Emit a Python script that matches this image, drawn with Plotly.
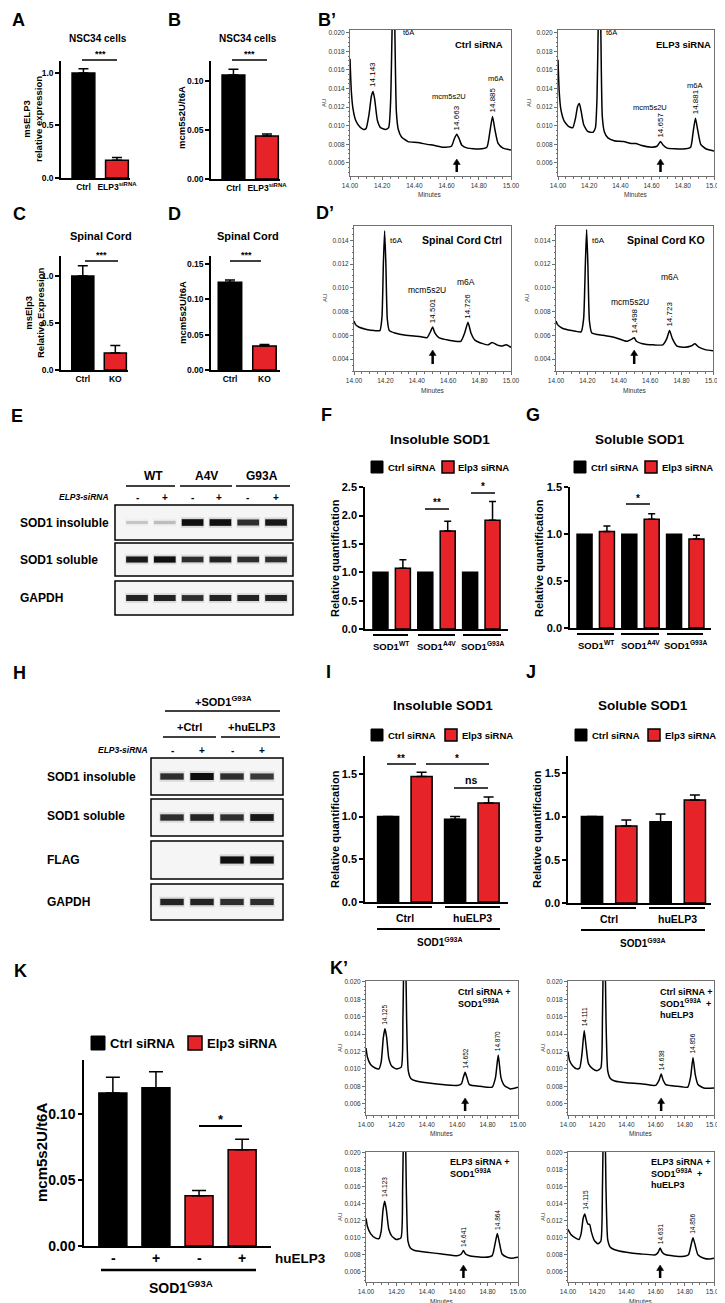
import plotly.graph_objects as go

W, H = 725, 1303
FONT = "Liberation Sans, Arial, Helvetica, sans-serif"
RED = "#e52329"
AXC = "#707070"

# ---------------- data ----------------
a_labels = ["Ctrl", "ELP3<sup>siRNA</sup>"]
a_values = [1.00, 0.17]
a_errors = [0.04, 0.025]
b_labels = ["Ctrl", "ELP3<sup>siRNA</sup>"]
b_values = [0.106, 0.044]
b_errors = [0.006, 0.002]
c_labels = ["Ctrl", "KO"]
c_values = [1.00, 0.18]
c_errors = [0.11, 0.08]
d_labels = ["Ctrl", "KO"]
d_values = [0.124, 0.034]
d_errors = [0.003, 0.002]

f_groups = ["SOD1<sup>WT</sup>", "SOD1<sup>A4V</sup>", "SOD1<sup>G93A</sup>"]
f_ctrl = [1.0, 1.0, 1.0]
f_elp3 = [1.07, 1.73, 1.92]
f_elp3_err = [0.15, 0.17, 0.33]
g_ctrl = [1.0, 1.0, 1.0]
g_elp3 = [1.03, 1.16, 0.95]
g_elp3_err = [0.06, 0.06, 0.04]

ij_groups = ["Ctrl", "huELP3"]
i_ctrl = [1.0, 0.97]
i_ctrl_err = [0.0, 0.03]
i_elp3 = [1.47, 1.16]
i_elp3_err = [0.05, 0.07]
j_ctrl = [1.0, 0.94]
j_ctrl_err = [0.0, 0.09]
j_elp3 = [0.89, 1.19]
j_elp3_err = [0.07, 0.06]

k_ctrl = [0.116, 0.120]
k_ctrl_err = [0.012, 0.012]
k_elp3 = [0.038, 0.073]
k_elp3_err = [0.004, 0.008]
k_huelp3 = ["-", "+", "-", "+"]

# western blot band intensities (0..1)
e_lanes_sign = ["-", "+", "-", "+", "-", "+"]
e_insoluble = [0.18, 0.22, 1.0, 1.0, 0.85, 0.95]
e_soluble = [0.95, 1.0, 0.85, 0.9, 0.85, 0.85]
e_gapdh = [0.9, 0.9, 0.85, 0.9, 0.9, 0.9]
h_lanes_sign = ["-", "+", "-", "+"]
h_insoluble = [0.85, 1.0, 0.85, 0.8]
h_soluble = [0.85, 0.9, 0.85, 0.95]
h_flag = [0.0, 0.0, 1.0, 1.0]
h_gapdh = [0.9, 0.9, 0.85, 0.85]

# chromatograms (minutes, AU)
bp_ctrl_t = [14.000, 14.008, 14.018, 14.035, 14.060, 14.085, 14.100, 14.118, 14.133, 14.143,
             14.153, 14.170, 14.190, 14.220, 14.240, 14.252, 14.262, 14.270, 14.278, 14.288,
             14.300, 14.320, 14.360, 14.420, 14.480, 14.520, 14.580, 14.630, 14.648, 14.663,
             14.678, 14.695, 14.730, 14.800, 14.850, 14.870, 14.885, 14.900, 14.920, 14.950, 15.000]
bp_ctrl_au = [0.0172, 0.0138, 0.0119, 0.0106, 0.0099, 0.0096, 0.0097, 0.0112, 0.0132, 0.0137,
              0.0129, 0.0106, 0.0098, 0.0096, 0.0098, 0.0125, 0.0210, 0.0300, 0.0210, 0.0115,
              0.0096, 0.0088, 0.0083, 0.0082, 0.0080, 0.0079, 0.0077, 0.0078, 0.0086, 0.0091,
              0.0086, 0.0079, 0.0076, 0.0075, 0.0077, 0.0095, 0.0110, 0.0096, 0.0081, 0.0076, 0.0074]
bp_ctrl_peaks = [14.143, 14.663, 14.885]

bp_elp3_t = [14.000, 14.008, 14.018, 14.040, 14.070, 14.095, 14.112, 14.126, 14.137, 14.148,
             14.165, 14.190, 14.225, 14.240, 14.250, 14.258, 14.266, 14.274, 14.284, 14.298,
             14.320, 14.360, 14.420, 14.470, 14.500, 14.530, 14.600, 14.635, 14.657, 14.675,
             14.700, 14.800, 14.850, 14.866, 14.881, 14.896, 14.915, 14.950, 15.000]
bp_elp3_au = [0.0171, 0.0136, 0.0118, 0.0105, 0.0099, 0.0098, 0.0108, 0.0121, 0.0124, 0.0116,
              0.0101, 0.0094, 0.0093, 0.0098, 0.0130, 0.0210, 0.0300, 0.0210, 0.0110, 0.0093,
              0.0087, 0.0084, 0.0083, 0.0081, 0.0081, 0.0079, 0.0077, 0.0078, 0.0083, 0.0079,
              0.0076, 0.0075, 0.0077, 0.0093, 0.0108, 0.0095, 0.0080, 0.0075, 0.0073]
bp_elp3_peaks = [14.657, 14.881]

dp_ctrl_t = [14.000, 14.010, 14.030, 14.080, 14.130, 14.165, 14.178, 14.187, 14.195, 14.203,
             14.212, 14.225, 14.260, 14.330, 14.420, 14.465, 14.487, 14.501, 14.515, 14.540,
             14.600, 14.680, 14.705, 14.726, 14.745, 14.770, 14.820, 14.855, 14.880, 14.910,
             14.940, 14.970, 15.000]
dp_ctrl_au = [0.0072, 0.0069, 0.0067, 0.0065, 0.0064, 0.0064, 0.0075, 0.0120, 0.0148, 0.0120,
              0.0074, 0.0064, 0.0062, 0.0060, 0.0059, 0.0058, 0.0063, 0.0067, 0.0062, 0.0058,
              0.0056, 0.0055, 0.0062, 0.0071, 0.0062, 0.0056, 0.0053, 0.0052, 0.0054, 0.0052,
              0.0051, 0.0052, 0.0050]
dp_ctrl_peaks = [14.501, 14.726]

dp_ko_t = [14.000, 14.010, 14.040, 14.100, 14.160, 14.176, 14.187, 14.195, 14.203, 14.213,
           14.228, 14.300, 14.380, 14.450, 14.485, 14.498, 14.512, 14.550, 14.620, 14.680,
           14.705, 14.723, 14.742, 14.770, 14.820, 14.860, 14.885, 14.910, 14.950, 15.000]
dp_ko_au = [0.0072, 0.0069, 0.0066, 0.0064, 0.0063, 0.0074, 0.0120, 0.0149, 0.0120, 0.0072,
            0.0062, 0.0060, 0.0058, 0.0055, 0.0057, 0.0058, 0.0055, 0.0053, 0.0052, 0.0052,
            0.0057, 0.0064, 0.0057, 0.0051, 0.0050, 0.0051, 0.0053, 0.0050, 0.0048, 0.0047]
dp_ko_peaks = [14.498, 14.723]

k1_t = [14.000, 14.010, 14.030, 14.060, 14.085, 14.100, 14.114, 14.125, 14.136, 14.150,
        14.170, 14.200, 14.232, 14.243, 14.255, 14.267, 14.278, 14.295, 14.330, 14.400,
        14.500, 14.600, 14.628, 14.640, 14.652, 14.664, 14.680, 14.750, 14.830, 14.852,
        14.870, 14.888, 14.910, 14.950, 15.000]
k1_au = [0.0124, 0.0113, 0.0105, 0.0101, 0.0100, 0.0108, 0.0136, 0.0146, 0.0136, 0.0112,
         0.0103, 0.0100, 0.0102, 0.0160, 0.0300, 0.0160, 0.0098, 0.0089, 0.0086, 0.0084,
         0.0082, 0.0081, 0.0083, 0.0090, 0.0096, 0.0090, 0.0082, 0.0080, 0.0079, 0.0090,
         0.0116, 0.0090, 0.0081, 0.0077, 0.0079]
k1_peaks = [14.125, 14.652, 14.870]

k2_t = [14.000, 14.010, 14.030, 14.060, 14.080, 14.095, 14.111, 14.124, 14.140, 14.170,
        14.200, 14.225, 14.236, 14.248, 14.260, 14.272, 14.290, 14.320, 14.400, 14.500,
        14.600, 14.624, 14.638, 14.652, 14.670, 14.750, 14.820, 14.840, 14.856, 14.872,
        14.890, 14.930, 15.000]
k2_au = [0.0120, 0.0110, 0.0104, 0.0100, 0.0101, 0.0116, 0.0144, 0.0126, 0.0106, 0.0100,
         0.0098, 0.0101, 0.0160, 0.0300, 0.0160, 0.0098, 0.0089, 0.0086, 0.0084, 0.0083,
         0.0081, 0.0087, 0.0094, 0.0087, 0.0082, 0.0080, 0.0079, 0.0091, 0.0113, 0.0093,
         0.0082, 0.0078, 0.0078]
k2_peaks = [14.111, 14.638, 14.856]

k3_t = [14.000, 14.010, 14.030, 14.060, 14.085, 14.100, 14.112, 14.123, 14.134, 14.150,
        14.170, 14.200, 14.230, 14.241, 14.253, 14.265, 14.276, 14.292, 14.320, 14.400,
        14.500, 14.600, 14.627, 14.641, 14.655, 14.680, 14.780, 14.830, 14.848, 14.864,
        14.879, 14.895, 14.930, 14.960, 15.000]
k3_au = [0.0123, 0.0113, 0.0105, 0.0100, 0.0099, 0.0108, 0.0133, 0.0143, 0.0133, 0.0110,
         0.0102, 0.0098, 0.0100, 0.0160, 0.0300, 0.0160, 0.0096, 0.0088, 0.0085, 0.0083,
         0.0081, 0.0079, 0.0081, 0.0085, 0.0081, 0.0079, 0.0077, 0.0079, 0.0092, 0.0105,
         0.0093, 0.0081, 0.0077, 0.0076, 0.0077]
k3_peaks = [14.123, 14.641, 14.864]

k4_t = [14.000, 14.020, 14.050, 14.075, 14.090, 14.104, 14.115, 14.126, 14.137, 14.148,
        14.160, 14.180, 14.205, 14.225, 14.236, 14.248, 14.260, 14.272, 14.290, 14.320,
        14.400, 14.500, 14.600, 14.618, 14.631, 14.645, 14.670, 14.780, 14.825, 14.842,
        14.856, 14.870, 14.890, 14.930, 14.970, 15.000]
k4_au = [0.0110, 0.0104, 0.0100, 0.0098, 0.0105, 0.0123, 0.0128, 0.0121, 0.0116, 0.0116,
         0.0107, 0.0097, 0.0093, 0.0096, 0.0160, 0.0300, 0.0160, 0.0098, 0.0089, 0.0086,
         0.0083, 0.0081, 0.0080, 0.0083, 0.0088, 0.0083, 0.0080, 0.0078, 0.0080, 0.0091,
         0.0100, 0.0092, 0.0080, 0.0076, 0.0075, 0.0076]
k4_peaks = [14.115, 14.631, 14.856]

# ---------------- helpers ----------------
fig = go.Figure()
axes = {}
anns = []
shapes = []
count = [0]


def X(x):
    return x / W


def Y(y):
    return 1 - y / H


def new_axes(x0, x1, y0, y1, xkw, ykw):
    count[0] += 1
    k = count[0]
    sx = "" if k == 1 else str(k)
    axes["xaxis" + sx] = dict(domain=[X(x0), X(x1)], anchor="y" + sx, **xkw)
    axes["yaxis" + sx] = dict(domain=[Y(y1), Y(y0)], anchor="x" + sx, **ykw)
    return "x" + sx, "y" + sx


def txt(x, y, s, size=10, bold=True, italic=False, color="black", angle=0,
        xa="center", ya="middle", align="center"):
    if bold:
        s = "<b>" + s + "</b>"
    if italic:
        s = "<i>" + s + "</i>"
    anns.append(dict(x=X(x), y=Y(y), xref="paper", yref="paper", text=s, showarrow=False,
                     textangle=angle, xanchor=xa, yanchor=ya, align=align,
                     font=dict(size=size, family=FONT, color=color)))


def line(x0, x1, y, w=1.5, color="black"):
    shapes.append(dict(type="line", xref="paper", yref="paper", x0=X(x0), x1=X(x1),
                       y0=Y(y), y1=Y(y), line=dict(color=color, width=w)))


def vline(x, y0, y1, w=2.5, color="black"):
    shapes.append(dict(type="line", xref="paper", yref="paper", x0=X(x), x1=X(x),
                       y0=Y(y0), y1=Y(y1), line=dict(color=color, width=w)))


def rect(x0, x1, y0, y1, fill, lw=1.5, lc="black", layer="above"):
    shapes.append(dict(type="rect", xref="paper", yref="paper", x0=X(x0), x1=X(x1),
                       y0=Y(y1), y1=Y(y0), fillcolor=fill, line=dict(color=lc, width=lw),
                       layer=layer))


def bar_axes(x0, x1, y0, y1, xr, yr, yt, ytt, fs, xt=None, xtt=None):
    xkw = dict(range=xr, showline=True, linecolor="black", linewidth=1.5, ticks="",
               showgrid=False, zeroline=False)
    if xt is None:
        xkw["showticklabels"] = False
    else:
        xkw.update(tickvals=xt, ticktext=["<b>%s</b>" % s for s in xtt],
                   tickfont=dict(size=fs, family=FONT, color="black"))
    ykw = dict(range=yr, showline=True, linecolor="black", linewidth=1.5, ticks="outside",
               ticklen=4, tickwidth=1.5, tickcolor="black", tickvals=yt,
               ticktext=["<b>%s</b>" % s for s in ytt],
               tickfont=dict(size=fs, family=FONT, color="black"),
               showgrid=False, zeroline=False)
    return new_axes(x0, x1, y0, y1, xkw, ykw)


def bars(ax, xs, vals, errs, color, width, cap):
    kw = dict(x=xs, y=vals, width=width,
              marker=dict(color=color, line=dict(color="black", width=1.5)),
              xaxis=ax[0], yaxis=ax[1], showlegend=False, hoverinfo="skip")
    if errs is not None:
        kw["error_y"] = dict(type="data", symmetric=False, array=errs,
                             arrayminus=[0] * len(vals), color="black", thickness=1.5, width=cap)
    fig.add_trace(go.Bar(**kw))


def legend(xb, xr_, y, sq, fs):
    rect(xb, xb + sq, y - sq / 2, y + sq / 2, "black", lw=1)
    txt(xb + sq + 2.5, y, "Ctrl siRNA", size=fs, xa="left")
    rect(xr_, xr_ + sq, y - sq / 2, y + sq / 2, RED, lw=1.5)
    txt(xr_ + sq + 2.5, y, "Elp3 siRNA", size=fs, xa="left")


def chrom(x0, x1, y0, y1, yr, t, au, peaks, pfs, arrow_t, arrow_py, arrow_len):
    tickf = dict(size=6.5, family=FONT, color="#333")
    xkw = dict(range=[14, 15], tickmode="linear", tick0=14, dtick=0.2, tickformat=".2f",
               ticks="outside", ticklen=3, tickwidth=1, tickcolor=AXC, showline=True,
               mirror=True, linecolor=AXC, linewidth=1, tickfont=tickf,
               minor=dict(ticks="outside", ticklen=1.5, dtick=0.05, tickcolor=AXC, showgrid=False),
               showgrid=False, zeroline=False)
    ykw = dict(range=yr, tickmode="linear", tick0=0, dtick=0.002, tickformat=".3f",
               ticks="outside", ticklen=3, tickwidth=1, tickcolor=AXC, showline=True,
               mirror=True, linecolor=AXC, linewidth=1, tickfont=tickf,
               minor=dict(ticks="outside", ticklen=1.5, dtick=0.0005, tickcolor=AXC, showgrid=False),
               showgrid=False, zeroline=False)
    ax = new_axes(x0, x1, y0, y1, xkw, ykw)
    fig.add_trace(go.Scatter(x=t, y=au, mode="lines",
                             line=dict(color="black", width=1.5, shape="spline", smoothing=0.5),
                             xaxis=ax[0], yaxis=ax[1], showlegend=False, hoverinfo="skip"))
    for p in peaks:
        i = min(range(len(t)), key=lambda j: abs(t[j] - p))
        anns.append(dict(x=p, y=au[i], xref=ax[0], yref=ax[1], text="%.3f" % p, textangle=-90,
                         showarrow=False, xanchor="center", yanchor="bottom", yshift=2,
                         font=dict(size=pfs, family=FONT, color="black")))
    # arrow: shaft + head
    ax_px = x0 + (arrow_t - 14.0) * (x1 - x0)
    vline(ax_px, arrow_py + 4, arrow_py + arrow_len, w=2.5)
    shapes.append(dict(type="path", xref="paper", yref="paper",
                       path="M %f %f L %f %f L %f %f Z" % (X(ax_px - 3.5), Y(arrow_py + 5.5),
                                                           X(ax_px), Y(arrow_py),
                                                           X(ax_px + 3.5), Y(arrow_py + 5.5)),
                       fillcolor="black", line=dict(color="black", width=0.5)))
    return ax


def blot(x0, x1, y0, y1, xr, intens):
    rect(x0, x1, y0, y1, "#f5f5f5", lw=1.5, layer="below")
    ax = new_axes(x0, x1, y0, y1,
                  dict(range=xr, visible=False, showgrid=False, zeroline=False),
                  dict(range=[0, 1], visible=False, showgrid=False, zeroline=False))
    n = len(intens)
    lanes = list(range(n))
    halo = [0.20 + 0.10 * v for v in intens]
    fig.add_trace(go.Bar(x=lanes, y=halo, base=[0.5 - h / 2 for h in halo], width=0.84,
                         marker=dict(color=["rgba(60,60,60,%.3f)" % (0.16 * v) for v in intens],
                                     line=dict(width=0)),
                         xaxis=ax[0], yaxis=ax[1], showlegend=False, hoverinfo="skip"))
    core = [0.07 + 0.12 * v for v in intens]
    fig.add_trace(go.Bar(x=lanes, y=core, base=[0.5 - c / 2 for c in core], width=0.78,
                         marker=dict(color=["rgba(8,8,8,%.3f)" % (0.97 * v) for v in intens],
                                     line=dict(width=0)),
                         xaxis=ax[0], yaxis=ax[1], showlegend=False, hoverinfo="skip"))
    return ax


LET = 18

# ---------------- Panel A ----------------
txt(10, 12, "A", size=LET)
txt(90, 30, "NSC34 cells", size=10)
ax = bar_axes(53, 122, 53, 170, [-0.67, 1.39], [0, 1.114], [0, 0.5, 1.0], ["0.0", "0.5", "1.0"],
              8.5, [0, 1], a_labels)
bars(ax, [0, 1], a_values, a_errors, ["black", RED], 0.68, 5)
txt(25, 111, "msELP3<br>relative expression", size=9.5, angle=-90)
line(74, 109, 52)
txt(92, 46, "***", size=9)

# ---------------- Panel B ----------------
txt(166, 12, "B", size=LET)
txt(240, 30, "NSC34 cells", size=10)
ax = bar_axes(203, 272, 53, 171, [-0.67, 1.39], [0, 0.1204], [0, 0.05, 0.10],
              ["0.00", "0.05", "0.10"], 8.5, [0, 1], b_labels)
bars(ax, [0, 1], b_values, b_errors, ["black", RED], 0.68, 5)
txt(174, 110, "mcm5s2U/t6A", size=9.5, angle=-90)
line(224, 259, 52)
txt(242, 46, "***", size=9)

# ---------------- Panel B' ----------------
txt(319, 12, "B’", size=LET)
ax = chrom(342, 503, 22, 168, [0.0046, 0.0203], bp_ctrl_t, bp_ctrl_au, bp_ctrl_peaks, 8,
           14.663, 151, 13)
txt(471, 37, "Ctrl siRNA", size=9.5)
txt(400, 25, "t6A", size=7.5, bold=False)
txt(441, 89, "mcm5s2U", size=7.5, bold=False)
txt(487, 70, "m6A", size=7.5, bold=False)
txt(422, 187, "Minutes", size=6.5, bold=False, color="#333")
txt(316, 95, "AU", size=6, bold=False, angle=-90, color="#333")

ax = chrom(550, 706, 22, 168, [0.0046, 0.0203], bp_elp3_t, bp_elp3_au, bp_elp3_peaks, 8,
           14.657, 151, 13)
txt(675, 37, "ELP3 siRNA", size=9.5)
txt(603, 25, "t6A", size=7.5, bold=False)
txt(642, 99, "mcm5s2U", size=7.5, bold=False)
txt(686, 77, "m6A", size=7.5, bold=False)
txt(628, 187, "Minutes", size=6.5, bold=False, color="#333")
txt(521, 95, "AU", size=6, bold=False, angle=-90, color="#333")

# ---------------- Panel C ----------------
txt(11, 206, "C", size=LET)
txt(93, 228, "Spinal Cord", size=11)
ax = bar_axes(53, 120, 248, 362, [-0.67, 1.39], [0, 1.213], [0, 0.5, 1.0], ["0.0", "0.5", "1.0"],
              8.5, [0, 1], c_labels)
bars(ax, [0, 1], c_values, c_errors, ["black", RED], 0.68, 5)
txt(26, 305, "msElp3<br>Relative Expression", size=9.5, angle=-90)
line(77, 110, 253)
txt(93, 247, "***", size=9)

# ---------------- Panel D ----------------
txt(166, 206, "D", size=LET)
txt(240, 228, "Spinal Cord", size=11)
ax = bar_axes(203, 272, 248, 362, [-0.55, 1.45], [0, 0.161], [0, 0.05, 0.10, 0.15],
              ["0.00", "0.05", "0.10", "0.15"], 8.5, [0, 1], d_labels)
bars(ax, [0, 1], d_values, d_errors, ["black", RED], 0.68, 5)
txt(174, 305, "mcm5s2U/t6A", size=9.5, angle=-90)
line(222, 253, 253)
txt(238, 247, "***", size=9)

# ---------------- Panel D' ----------------
txt(317, 205, "D’", size=LET)
ax = chrom(346, 503, 218, 363, [0.003, 0.0152], dp_ctrl_t, dp_ctrl_au, dp_ctrl_peaks, 8,
           14.501, 342, 14)
txt(454, 232, "Spinal Cord Ctrl", size=10.5)
txt(388, 232, "t6A", size=8, bold=False)
txt(419, 282, "mcm5s2U", size=8.5, bold=False)
txt(458, 274, "m6A", size=8.5, bold=False)
txt(425, 383, "Minutes", size=6.5, bold=False, color="#333")
txt(317, 290, "AU", size=6, bold=False, angle=-90, color="#333")

ax = chrom(548, 705, 218, 363, [0.003, 0.0152], dp_ko_t, dp_ko_au, dp_ko_peaks, 8,
           14.498, 342, 14)
txt(658, 232, "Spinal Cord KO", size=10.5)
txt(590, 232, "t6A", size=8, bold=False)
txt(622, 294, "mcm5s2U", size=8.5, bold=False)
txt(662, 269, "m6A", size=8.5, bold=False)
txt(627, 383, "Minutes", size=6.5, bold=False, color="#333")
txt(519, 290, "AU", size=6, bold=False, angle=-90, color="#333")

# ---------------- Panel E (blot) ----------------
txt(9, 408, "E", size=LET)
txt(145, 468, "WT", size=12)
txt(198, 468, "A4V", size=12)
txt(254, 468, "G93A", size=12)
line(118, 167, 478)
line(172, 224, 478)
line(228, 282, 478)
txt(103, 489, "ELP3-siRNA", size=8.5, italic=True, xa="right")
e_centers = [129, 157, 184, 211, 239, 268]
for cx, s in zip(e_centers, e_lanes_sign):
    txt(cx, 489, s, size=10)
e_xr = [-0.79, 5.61]
blot(107, 285, 497, 532, e_xr, e_insoluble)
blot(107, 285, 535, 568, e_xr, e_soluble)
blot(107, 285, 573, 607, e_xr, e_gapdh)
txt(10, 515, "SOD1 insoluble", size=12, xa="left")
txt(10, 552, "SOD1 soluble", size=12, xa="left")
txt(10, 590, "GAPDH", size=12, xa="left")

# ---------------- Panel F ----------------
txt(318, 407, "F", size=LET)
txt(432, 432, "Insoluble SOD1", size=13.5)
legend(363, 434, 459, 12, 9.5)
ax = bar_axes(357, 500, 479, 621, [-0.69, 5.69], [0, 2.505], [0, 0.5, 1.0, 1.5, 2.0, 2.5],
              ["0.0", "0.5", "1.0", "1.5", "2.0", "2.5"], 11)
bars(ax, [0, 2, 4], f_ctrl, None, "black", 0.67, 3.5)
bars(ax, [1, 3, 5], f_elp3, f_elp3_err, RED, 0.67, 3.5)
txt(327, 550, "Relative quantification", size=11, angle=-90)
line(417, 441, 501)
txt(429, 495, "**", size=10)
line(463, 487, 485)
txt(475, 479, "*", size=10)
for (x0, x1), lab in zip([(365, 400), (410, 447), (455, 493)], f_groups):
    line(x0, x1, 627, w=2)
    txt((x0 + x1) / 2, 638, lab, size=9.5)

# ---------------- Panel G ----------------
txt(525, 407, "G", size=LET)
txt(632, 432, "Soluble SOD1", size=13.5)
legend(566, 637, 459, 12, 9.5)
ax = bar_axes(562, 703, 479, 620, [-0.65, 5.65], [0, 1.505], [0, 0.5, 1.0, 1.5],
              ["0.0", "0.5", "1.0", "1.5"], 11)
bars(ax, [0, 2, 4], g_ctrl, None, "black", 0.67, 3.5)
bars(ax, [1, 3, 5], g_elp3, g_elp3_err, RED, 0.67, 3.5)
txt(531, 550, "Relative quantification", size=11, angle=-90)
line(618, 642, 496)
txt(630, 490, "*", size=10)
for (x0, x1), lab in zip([(569, 606), (613, 651), (659, 695)], f_groups):
    line(x0, x1, 626, w=2)
    txt((x0 + x1) / 2, 637, lab, size=9.5)

# ---------------- Panel H (blot) ----------------
txt(11, 665, "H", size=LET)
txt(215, 693, "+SOD1<sup>G93A</sup>", size=11)
line(157, 272, 703)
txt(182, 719, "+Ctrl", size=11)
line(155, 208, 729)
txt(243, 719, "+huELP3", size=11)
line(213, 272, 729)
txt(142, 742, "ELP3-siRNA", size=8.5, italic=True, xa="right")
h_centers = [164, 194, 224, 254]
for cx, s in zip(h_centers, h_lanes_sign):
    txt(cx, 742, s, size=10)
h_xr = [-0.7, 3.7]
blot(143, 275, 750, 787, h_xr, h_insoluble)
blot(143, 275, 791, 828, h_xr, h_soluble)
blot(143, 275, 833, 871, h_xr, h_flag)
blot(143, 275, 876, 912, h_xr, h_gapdh)
txt(37, 769, "SOD1 insoluble", size=12, xa="left")
txt(37, 808, "SOD1 soluble", size=12, xa="left")
txt(37, 852, "FLAG", size=12, xa="left")
txt(37, 894, "GAPDH", size=12, xa="left")

# ---------------- Panel I ----------------
txt(320, 664, "I", size=LET)
txt(435, 697, "Insoluble SOD1", size=13.5)
legend(363, 437, 727, 12, 9.5)
ax = bar_axes(357, 500, 748, 894, [-0.69, 3.58], [0, 1.71], [0, 0.5, 1.0, 1.5],
              ["0.0", "0.5", "1.0", "1.5"], 11)
bars(ax, [0, 2], i_ctrl, i_ctrl_err, "black", 0.63, 5)
bars(ax, [1, 3], i_elp3, i_elp3_err, RED, 0.63, 5)
txt(327, 821, "Relative quantification", size=11, angle=-90)
line(379, 408, 756)
txt(393, 750, "**", size=10)
line(418, 481, 756)
txt(449, 750, "*", size=10)
line(446, 480, 780)
txt(463, 772, "ns", size=10.5)
for (x0, x1), lab in zip([(369, 424), (437, 492)], ij_groups):
    line(x0, x1, 899, w=2)
    txt((x0 + x1) / 2, 910, lab, size=10.5)
line(369, 492, 921, w=2)
txt(432, 934, "SOD1<sup>G93A</sup>", size=10)

# ---------------- Panel J ----------------
txt(523, 664, "J", size=LET)
txt(635, 697, "Soluble SOD1", size=13.5)
legend(567, 640, 727, 12, 9.5)
ax = bar_axes(560, 703, 748, 895, [-0.7, 3.47], [0, 1.70], [0, 0.5, 1.0, 1.5],
              ["0.0", "0.5", "1.0", "1.5"], 11)
bars(ax, [0, 2], j_ctrl, j_ctrl_err, "black", 0.62, 5)
bars(ax, [1, 3], j_elp3, j_elp3_err, RED, 0.62, 5)
txt(529, 821, "Relative quantification", size=11, angle=-90)
for (x0, x1), lab in zip([(573, 628), (641, 697)], ij_groups):
    line(x0, x1, 900, w=2)
    txt((x0 + x1) / 2, 911, lab, size=10.5)
line(573, 697, 922, w=2)
txt(635, 935, "SOD1<sup>G93A</sup>", size=10)

# ---------------- Panel K ----------------
txt(12, 963, "K", size=LET)
legend(83, 180, 1035, 14, 13)
ax = bar_axes(76, 263, 1052, 1238, [-0.67, 3.67], [0, 0.141], [0, 0.05, 0.10],
              ["0.00", "0.05", "0.10"], 14)
bars(ax, [0, 1], k_ctrl, k_ctrl_err, "black", 0.65, 7)
bars(ax, [2, 3], k_elp3, k_elp3_err, RED, 0.65, 7)
txt(33, 1145, "mcm5s2U/t6A", size=15, angle=-90)
line(191, 234, 1118, w=2)
txt(213, 1111, "*", size=13)
for cx, s in zip([105, 148, 191, 234], k_huelp3):
    txt(cx, 1250, s, size=14)
txt(265, 1250, "huELP3", size=13.5, xa="left")
line(93, 248, 1262, w=2.5)
txt(173, 1279, "SOD1<sup>G93A</sup>", size=14)

# ---------------- Panel K' ----------------
txt(331, 960, "K’", size=LET)
ax = chrom(358, 510, 973, 1107, [0.0047, 0.0201], k1_t, k1_au, k1_peaks, 6.5, 14.652, 1090, 13)
txt(448, 977, "Ctrl siRNA +<br>SOD1<sup>G93A</sup>", size=9, xa="left", ya="top", align="left")
txt(434, 1125, "Minutes", size=6.5, bold=False, color="#333")
txt(332, 1040, "AU", size=6, bold=False, angle=-90, color="#333")

ax = chrom(560, 706, 973, 1107, [0.0047, 0.0201], k2_t, k2_au, k2_peaks, 6.5, 14.638, 1090, 13)
txt(650, 977, "Ctrl siRNA +<br>SOD1<sup>G93A</sup>  +<br>huELP3", size=9, xa="left", ya="top",
    align="left")
txt(633, 1125, "Minutes", size=6.5, bold=False, color="#333")
txt(535, 1040, "AU", size=6, bold=False, angle=-90, color="#333")

ax = chrom(358, 510, 1144, 1274, [0.0048, 0.0201], k3_t, k3_au, k3_peaks, 6.5, 14.641, 1257, 13)
txt(440, 1147, "ELP3 siRNA +<br>SOD1<sup>G93A</sup>", size=9, xa="left", ya="top", align="left")
txt(434, 1293, "Minutes", size=6.5, bold=False, color="#333")
txt(332, 1209, "AU", size=6, bold=False, angle=-90, color="#333")

ax = chrom(560, 706, 1144, 1274, [0.0048, 0.0201], k4_t, k4_au, k4_peaks, 6.5, 14.631, 1257, 13)
txt(641, 1147, "ELP3 siRNA +<br>SOD1<sup>G93A</sup>  +<br>huELP3", size=9, xa="left", ya="top",
    align="left")
txt(633, 1293, "Minutes", size=6.5, bold=False, color="#333")
txt(535, 1209, "AU", size=6, bold=False, angle=-90, color="#333")

fig.update_layout(
    width=W, height=H, autosize=False,
    margin=dict(l=0, r=0, t=0, b=0),
    template="none",
    paper_bgcolor="white",
    plot_bgcolor="rgba(0,0,0,0)",
    barmode="overlay",
    showlegend=False,
    font=dict(family=FONT, color="black"),
    annotations=anns,
    shapes=shapes,
    **axes,
)

fig.write_html("out.html")
